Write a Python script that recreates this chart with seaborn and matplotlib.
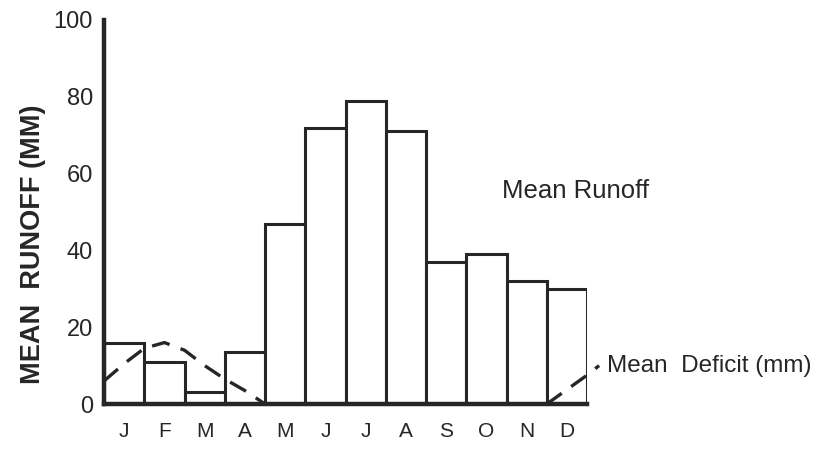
import matplotlib
matplotlib.use("Agg")
import matplotlib.pyplot as plt
import seaborn as sns
import pandas as pd

# Monthly mean runoff (mm)
months = ["Jan", "Feb", "Mar", "Apr", "May", "Jun",
          "Jul", "Aug", "Sep", "Oct", "Nov", "Dec"]
month_letters = ["J", "F", "M", "A", "M", "J", "J", "A", "S", "O", "N", "D"]
runoff = [16, 11, 3, 13.5, 47, 72, 79, 71, 37, 39, 32, 30]

# Mean deficit (mm), sampled along the month axis (month index units)
deficit_early_pos = [-0.5, 0.0, 0.5, 1.0, 1.5, 2.0, 2.5, 3.0, 3.5]
deficit_early = [6, 10.5, 14.5, 16, 14, 10, 6.5, 3.5, 0]
deficit_late_pos = [10.5, 11.5, 11.8]
deficit_late = [0, 7.5, 10]

y_ticks = [0, 20, 40, 60, 80, 100]

sns.set_theme(style="white")
plt.rcParams["font.family"] = ["Liberation Sans", "DejaVu Sans"]
ink = "#262626"

fig = plt.figure(figsize=(8.33, 4.5), dpi=100)
ax = fig.add_axes([0.1249, 0.1022, 0.5798, 0.8534])

df = pd.DataFrame({"month": months, "runoff": runoff})
sns.barplot(data=df, x="month", y="runoff", order=months, ax=ax,
            color="white", edgecolor=ink, linewidth=2.2, width=1.0,
            saturation=1)

dash = (0, (5.5, 3.5))
sns.lineplot(x=deficit_early_pos, y=deficit_early, ax=ax, color=ink,
             linewidth=2.4, linestyle=dash, sort=False)
sns.lineplot(x=deficit_late_pos, y=deficit_late, ax=ax, color=ink,
             linewidth=2.4, linestyle=dash, sort=False, clip_on=False)

ax.set_xlim(-0.5, 11.5)
ax.set_ylim(0, 100)
ax.set_yticks(y_ticks)
ax.set_xticks(range(12))
ax.set_xticklabels(month_letters, fontsize=15, color=ink)
ax.set_yticklabels([str(v) for v in y_ticks], fontsize=17, color=ink)
ax.tick_params(axis="y", direction="inout", length=10, width=2,
               color=ink, pad=3)
ax.tick_params(axis="x", length=0, pad=13)

for side in ["top", "right"]:
    ax.spines[side].set_visible(False)
for side in ["left", "bottom"]:
    ax.spines[side].set_linewidth(3.2)
    ax.spines[side].set_color(ink)

ax.set_xlabel("")
ax.set_ylabel("")
fig.text(33 / 833, 1 - 244 / 450, "MEAN  RUNOFF (MM)", rotation=90,
         fontsize=19.5, fontweight="bold", color=ink,
         ha="center", va="center")

ax.text(9.4, 55.5, "Mean Runoff", fontsize=18.5, color=ink, va="center")
ax.text(12.0, 10, "Mean  Deficit (mm)", fontsize=17.5, color=ink,
        va="center", clip_on=False)

fig.savefig("out.png", dpi=100, facecolor="white")
